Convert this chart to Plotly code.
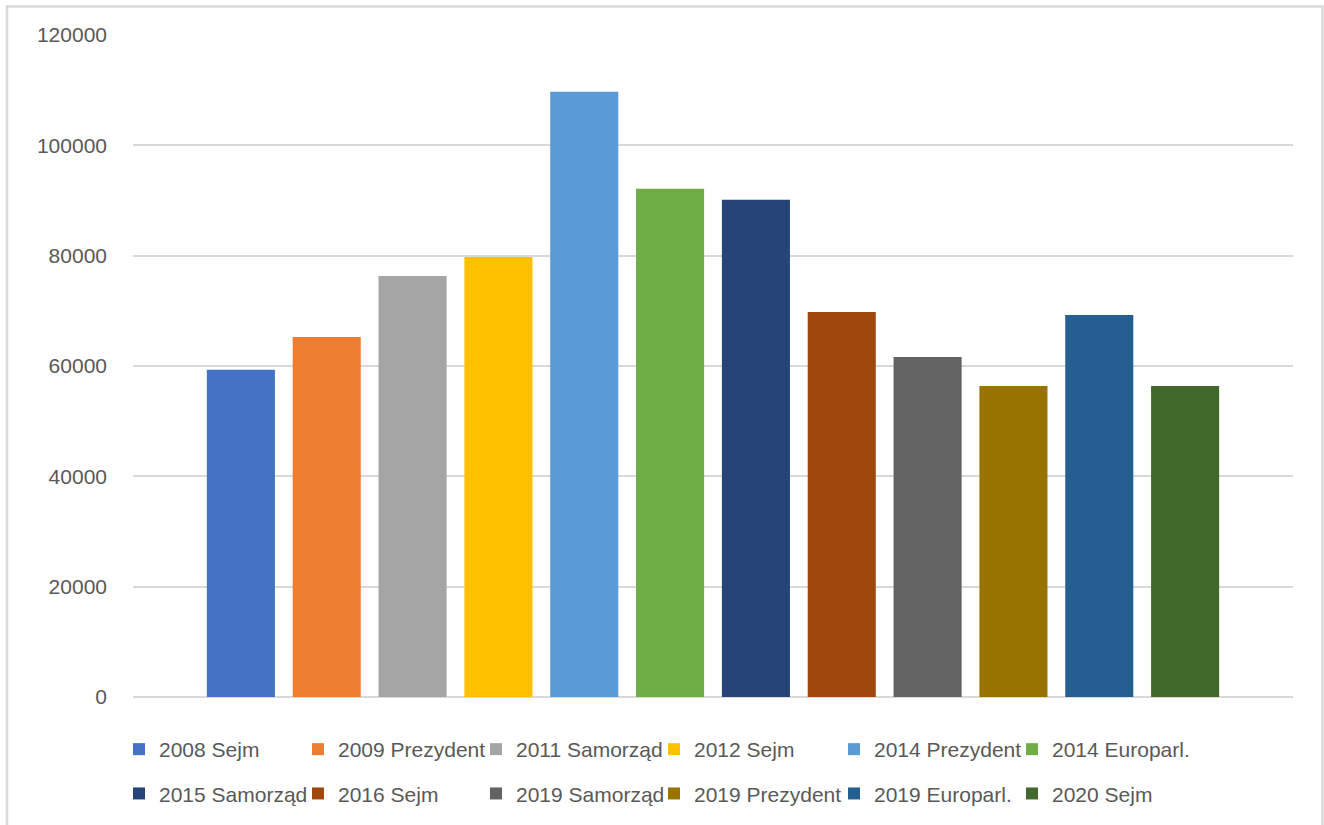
import plotly.graph_objects as go

series_names = ["2008 Sejm", "2009 Prezydent", "2011 Samorząd", "2012 Sejm",
                "2014 Prezydent", "2014 Europarl.", "2015 Samorząd", "2016 Sejm",
                "2019 Samorząd", "2019 Prezydent", "2019 Europarl.", "2020 Sejm"]
values = [59300, 65250, 76300, 79750, 109700, 92150, 90150, 69770,
          61630, 56380, 69230, 56380]
colors = ["#4472C4", "#ED7D31", "#A5A5A5", "#FFC000", "#5B9BD5", "#70AD47",
          "#264478", "#9E480E", "#636363", "#997300", "#255E91", "#43682B"]
category = [""]
y_ticks = [0, 20000, 40000, 60000, 80000, 100000, 120000]

W, H = 1324, 825
FONT = "Liberation Sans"
TXT = "#595959"

# legend column text starts (px) for the 6 columns
text_px = [157, 336, 514, 692, 872, 1050]

fig = go.Figure()
for i, (name, v, c) in enumerate(zip(series_names, values, colors)):
    leg = "legend" if i % 6 == 0 else f"legend{i % 6 + 1}"
    fig.add_trace(go.Bar(x=category, y=[v], name=name, marker_color=c,
                         marker_line_width=0, legend=leg, legendgroup=name))

legend_common = dict(
    orientation="v", xref="container", yref="container",
    yanchor="top", xanchor="left", y=1 - 729 / H,
    font=dict(family=FONT, size=21, color=TXT),
    tracegroupgap=14, bgcolor="rgba(0,0,0,0)", borderwidth=0,
)
legends = {}
for k, px in enumerate(text_px):
    key = "legend" if k == 0 else f"legend{k + 1}"
    legends[key] = dict(legend_common, x=(px - 38) / W)

ml, mr, mt, mb = 133, 31, 35, 128
pw, ph = W - ml - mr, H - mt - mb

def px_x(p):
    return (p - ml) / pw

def px_y(p):
    return (H - mb - p) / ph

fig.update_layout(
    width=W, height=H,
    margin=dict(l=ml, r=mr, t=mt, b=mb, autoexpand=False),
    paper_bgcolor="white", plot_bgcolor="white",
    barmode="group", bargap=0.112, bargroupgap=0.207,
    showlegend=True,
    font=dict(family=FONT, size=21, color=TXT),
    xaxis=dict(showticklabels=False, showgrid=False, zeroline=False,
               showline=False, ticks="", fixedrange=True),
    yaxis=dict(range=[0, 120000], tickvals=y_ticks,
               ticktext=[str(t) for t in y_ticks],
               showgrid=True, gridcolor="#D9D9D9", gridwidth=1.5,
               zeroline=True, zerolinecolor="#D9D9D9", zerolinewidth=1.5,
               showline=False, ticks="", ticklabelstandoff=25,
               tickfont=dict(family=FONT, size=21, color=TXT)),
    shapes=[dict(type="rect", xref="paper", yref="paper",
                 x0=px_x(7), x1=px_x(1322.5), y0=px_y(840), y1=px_y(6.5),
                 line=dict(color="#D9D9D9", width=2.5), fillcolor="rgba(0,0,0,0)",
                 layer="below")],
    **legends,
)

fig.write_html("out.html",
               config={"displayModeBar": False},
               post_script="document.body.style.margin='0px';"
                           "document.body.style.overflow='hidden';")
